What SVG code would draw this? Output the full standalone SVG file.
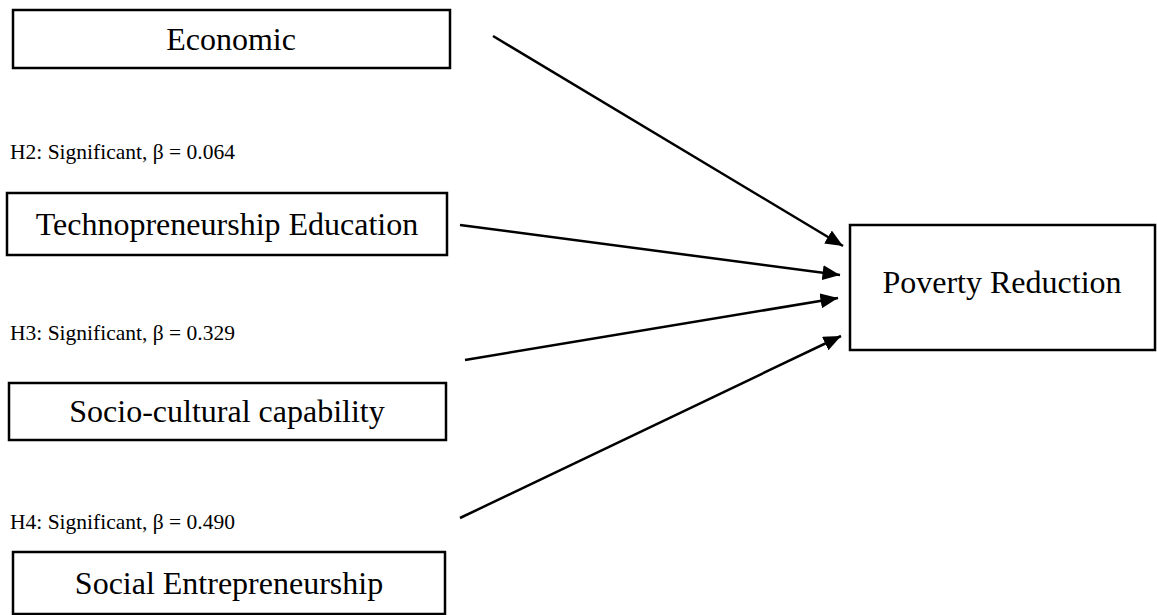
<svg xmlns="http://www.w3.org/2000/svg" width="1157" height="615" viewBox="0 0 1157 615">
<style>
.box{fill:#fff;stroke:#000;stroke-width:2.5}
.t{font-family:"Liberation Serif","Times New Roman",serif;fill:#000}
.n{font-size:32px;text-anchor:middle}
.l{font-size:21.5px}
.c{stroke:#000;stroke-width:2.5;fill:none;marker-end:url(#ah)}
</style>
<defs>
<marker id="ah" viewBox="0 0 10 10" refX="10" refY="5" markerWidth="7" markerHeight="6" orient="auto" markerUnits="strokeWidth" preserveAspectRatio="none">
<path d="M0,0 L10,5 L0,10 z" fill="#000"/>
</marker>
</defs>
<rect width="1157" height="615" fill="#fff"/>
<g id="n-economic"><rect class="box" x="13" y="10" width="437" height="58"/><text class="t n" x="231" y="50">Economic</text></g>
<g id="n-techno"><rect class="box" x="7" y="193" width="440" height="62"/><text class="t n" x="227" y="235">Technopreneurship Education</text></g>
<g id="n-socio"><rect class="box" x="9" y="383" width="437" height="57"/><text class="t n" x="227" y="422">Socio-cultural capability</text></g>
<g id="n-social"><rect class="box" x="13" y="552" width="432" height="62"/><text class="t n" x="229" y="594">Social Entrepreneurship</text></g>
<g id="n-poverty"><rect class="box" x="850" y="225" width="305" height="125"/><text class="t n" x="1002" y="293">Poverty Reduction</text></g>
<g id="labels">
<text class="t l" x="10" y="159">H2: Significant, β = 0.064</text>
<text class="t l" x="10" y="340">H3: Significant, β = 0.329</text>
<text class="t l" x="10" y="529">H4: Significant, β = 0.490</text>
</g>
<g id="connectors">
<line class="c" x1="493" y1="36" x2="843" y2="246"/>
<line class="c" x1="460" y1="225" x2="840" y2="275"/>
<line class="c" x1="465" y1="360" x2="838" y2="298"/>
<line class="c" x1="460" y1="518" x2="841" y2="336"/>
</g>
</svg>
